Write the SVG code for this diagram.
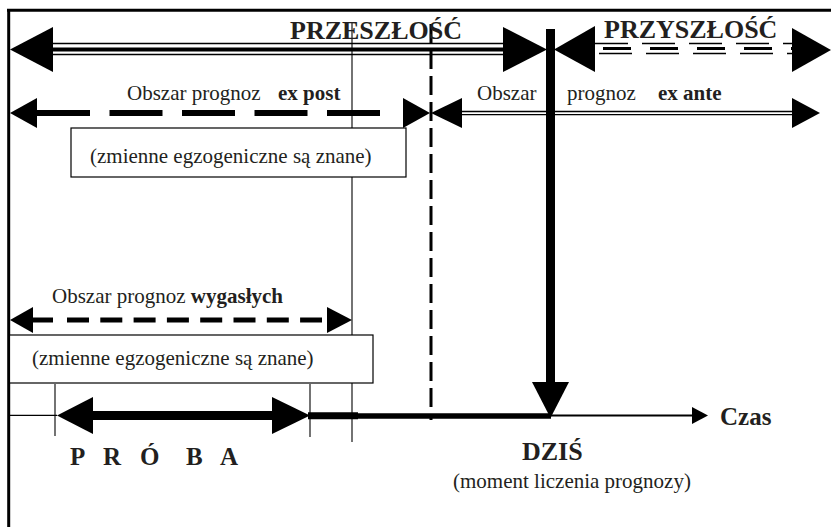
<svg xmlns="http://www.w3.org/2000/svg" width="831" height="527" viewBox="0 0 831 527">
<style>
  .t { font-family: "Liberation Serif", "Times New Roman", serif; fill: #231f20; }
  .r { font-size: 21px; }
  .b { font-weight: bold; }
  .head { fill: #000; stroke: none; }
  .box { fill: #fff; stroke: #000; stroke-width: 1.2; }
  .thin { stroke: #000; stroke-width: 1.1; fill: none; }
</style>
<rect x="0" y="0" width="831" height="527" fill="#fff"/>
<g id="frame">
  <line x1="7" y1="10.3" x2="831" y2="10.3" stroke="#000" stroke-width="3"/>
  <line x1="8.7" y1="9" x2="8.7" y2="527" stroke="#000" stroke-width="3"/>
</g>
<g id="connectors">
  <!-- guide lines -->
  <line class="thin" x1="352" y1="22" x2="352" y2="442"/>
  <line class="thin" x1="55" y1="384" x2="55" y2="436"/>
  <line class="thin" x1="310" y1="384" x2="310" y2="437"/>
  <line x1="431" y1="24" x2="431" y2="420" stroke="#000" stroke-width="3" stroke-dasharray="19 7"/>
  <!-- PRZESZLOSC arrow -->
  <g id="past-arrow">
    <line x1="50" y1="43.5" x2="506" y2="43.5" stroke="#000" stroke-width="1.3"/>
    <line x1="50" y1="49.5" x2="506" y2="49.5" stroke="#000" stroke-width="4"/>
    <line x1="50" y1="54.5" x2="506" y2="54.5" stroke="#000" stroke-width="1.3"/>
    <polygon class="head" points="10,49.5 53,27 53,72"/>
    <polygon class="head" points="503,27 547,49.5 503,72"/>
  </g>
  <!-- PRZYSZLOSC arrow -->
  <g id="future-arrow">
    <line x1="595" y1="43.5" x2="792" y2="43.5" stroke="#000" stroke-width="1.6" stroke-dasharray="33 14"/>
    <line x1="595" y1="48.5" x2="792" y2="48.5" stroke="#000" stroke-width="3" stroke-dasharray="28 19" stroke-dashoffset="-8"/>
    <line x1="595" y1="53.5" x2="792" y2="53.5" stroke="#000" stroke-width="1.6" stroke-dasharray="33 14" stroke-dashoffset="-4"/>
    <polygon class="head" points="554,49.5 595,26 595,72"/>
    <polygon class="head" points="792,28 831,50 792,72"/>
  </g>
  <!-- DZIS vertical arrow -->
  <g id="today-arrow">
    <line x1="550.5" y1="29" x2="550.5" y2="384" stroke="#000" stroke-width="9"/>
    <polygon class="head" points="532,382 569,382 550.5,418"/>
  </g>
  <!-- ex post arrow -->
  <g id="expost-arrow">
    <line x1="37" y1="113" x2="382" y2="113" stroke="#000" stroke-width="6" stroke-dasharray="53 19.5"/>
    <polygon class="head" points="10,113 37,98 37,128"/>
    <polygon class="head" points="403,98 430,113 403,128"/>
  </g>
  <!-- ex ante arrow -->
  <g id="exante-arrow">
    <line x1="460" y1="111.5" x2="794" y2="111.5" stroke="#000" stroke-width="1.3"/>
    <line x1="460" y1="114.7" x2="794" y2="114.7" stroke="#000" stroke-width="1.3"/>
    <polygon class="head" points="431,113 462,98 462,128"/>
    <polygon class="head" points="792,98 820,113 792,128"/>
  </g>
  <!-- wygaslych arrow -->
  <g id="wygasle-arrow">
    <line x1="31" y1="320" x2="53" y2="320" stroke="#000" stroke-width="5"/>
    <line x1="67" y1="320" x2="322" y2="320" stroke="#000" stroke-width="5" stroke-dasharray="22 11.3"/>
    <polygon class="head" points="10,320 33,307 33,333"/>
    <polygon class="head" points="327,307 352,320 327,333"/>
  </g>
  <!-- time axis -->
  <g id="time-axis">
    <line x1="10" y1="415.3" x2="57" y2="415.3" stroke="#000" stroke-width="1.3"/>
    <line x1="90" y1="415.5" x2="275" y2="415.5" stroke="#000" stroke-width="9"/>
    <polygon class="head" points="57,415.5 93,397 93,434"/>
    <polygon class="head" points="272,397 310,415.5 272,434"/>
    <line x1="308" y1="415.8" x2="358" y2="415.8" stroke="#000" stroke-width="7"/>
    <line x1="356" y1="416" x2="551" y2="416" stroke="#000" stroke-width="5.5"/>
    <line x1="549" y1="415.5" x2="694" y2="415.5" stroke="#000" stroke-width="2"/>
    <polygon class="head" points="692,407 708,415.5 692,424"/>
  </g>
</g>
<g id="node-przeszlosc">
  <text class="t b" x="290" y="39" font-size="26">PRZESZŁOŚĆ</text>
</g>
<g id="node-przyszlosc">
  <text class="t b" x="604" y="38" font-size="26">PRZYSZŁOŚĆ</text>
</g>
<g id="node-expost">
  <text class="t r" x="127" y="100">Obszar prognoz</text>
  <text class="t r b" x="278" y="100">ex post</text>
</g>
<g id="node-exante">
  <text class="t r" x="477" y="100">Obszar</text>
  <text class="t r" x="567" y="100">prognoz</text>
  <text class="t r b" x="658" y="100">ex ante</text>
</g>
<g id="node-box1">
  <rect class="box" x="71" y="128" width="335" height="49"/>
  <text class="t r" x="90" y="163">(zmienne egzogeniczne są znane)</text>
</g>
<g id="node-wygasle">
  <text class="t r" x="52" y="303">Obszar prognoz <tspan class="b">wygasłych</tspan></text>
</g>
<g id="node-box2">
  <rect class="box" x="9.5" y="335" width="363.5" height="48"/>
  <text class="t r" x="32" y="365">(zmienne egzogeniczne są znane)</text>
</g>
<g id="node-proba">
  <text class="t b" x="70 103 140 186 220" y="465" font-size="25">PRÓBA</text>
</g>
<g id="node-czas">
  <text class="t b" x="720" y="425" font-size="25">Czas</text>
</g>
<g id="node-dzis">
  <text class="t b" x="522" y="460" font-size="26">DZIŚ</text>
  <text class="t r" x="453" y="488">(moment liczenia prognozy)</text>
</g>
</svg>
